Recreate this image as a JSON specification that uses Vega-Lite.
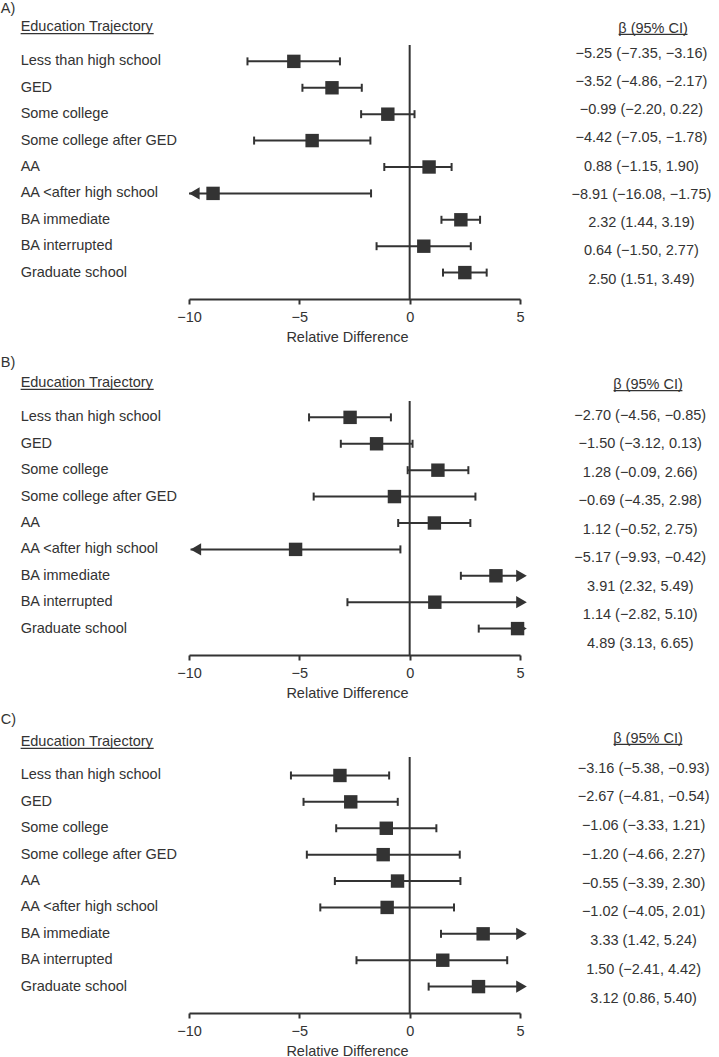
{
  "$schema": "https://vega.github.io/schema/vega-lite/v6.json",
  "padding": 0,
  "autosize": {"type": "pad"},
  "bounds": "flush",
  "spacing": 102,
  "background": "white",
  "datasets": {
    "d": [
      {"panel": "A", "ord": 1, "traj": "Less than high school", "est": -5.25, "lo": -7.35, "hi": -3.16, "trunc": "", "ci": "−5.25 (−7.35, −3.16)"},
      {"panel": "A", "ord": 2, "traj": "GED", "est": -3.52, "lo": -4.86, "hi": -2.17, "trunc": "", "ci": "−3.52 (−4.86, −2.17)"},
      {"panel": "A", "ord": 3, "traj": "Some college", "est": -0.99, "lo": -2.20, "hi": 0.22, "trunc": "", "ci": "−0.99 (−2.20, 0.22)"},
      {"panel": "A", "ord": 4, "traj": "Some college after GED", "est": -4.42, "lo": -7.05, "hi": -1.78, "trunc": "", "ci": "−4.42 (−7.05, −1.78)"},
      {"panel": "A", "ord": 5, "traj": "AA", "est": 0.88, "lo": -1.15, "hi": 1.90, "trunc": "", "ci": "0.88 (−1.15, 1.90)"},
      {"panel": "A", "ord": 6, "traj": "AA <after high school", "est": -8.91, "lo": -16.08, "hi": -1.75, "trunc": "left", "ci": "−8.91 (−16.08, −1.75)"},
      {"panel": "A", "ord": 7, "traj": "BA immediate", "est": 2.32, "lo": 1.44, "hi": 3.19, "trunc": "", "ci": "2.32 (1.44, 3.19)"},
      {"panel": "A", "ord": 8, "traj": "BA interrupted", "est": 0.64, "lo": -1.50, "hi": 2.77, "trunc": "", "ci": "0.64 (−1.50, 2.77)"},
      {"panel": "A", "ord": 9, "traj": "Graduate school", "est": 2.50, "lo": 1.51, "hi": 3.49, "trunc": "", "ci": "2.50 (1.51, 3.49)"},
      {"panel": "B", "ord": 1, "traj": "Less than high school", "est": -2.70, "lo": -4.56, "hi": -0.85, "trunc": "", "ci": "−2.70 (−4.56, −0.85)"},
      {"panel": "B", "ord": 2, "traj": "GED", "est": -1.50, "lo": -3.12, "hi": 0.13, "trunc": "", "ci": "−1.50 (−3.12, 0.13)"},
      {"panel": "B", "ord": 3, "traj": "Some college", "est": 1.28, "lo": -0.09, "hi": 2.66, "trunc": "", "ci": "1.28 (−0.09, 2.66)"},
      {"panel": "B", "ord": 4, "traj": "Some college after GED", "est": -0.69, "lo": -4.35, "hi": 2.98, "trunc": "", "ci": "−0.69 (−4.35, 2.98)"},
      {"panel": "B", "ord": 5, "traj": "AA", "est": 1.12, "lo": -0.52, "hi": 2.75, "trunc": "", "ci": "1.12 (−0.52, 2.75)"},
      {"panel": "B", "ord": 6, "traj": "AA <after high school", "est": -5.17, "lo": -9.93, "hi": -0.42, "trunc": "left", "ci": "−5.17 (−9.93, −0.42)"},
      {"panel": "B", "ord": 7, "traj": "BA immediate", "est": 3.91, "lo": 2.32, "hi": 5.49, "trunc": "right", "ci": "3.91 (2.32, 5.49)"},
      {"panel": "B", "ord": 8, "traj": "BA interrupted", "est": 1.14, "lo": -2.82, "hi": 5.10, "trunc": "right", "ci": "1.14 (−2.82, 5.10)"},
      {"panel": "B", "ord": 9, "traj": "Graduate school", "est": 4.89, "lo": 3.13, "hi": 6.65, "trunc": "right", "ci": "4.89 (3.13, 6.65)"},
      {"panel": "C", "ord": 1, "traj": "Less than high school", "est": -3.16, "lo": -5.38, "hi": -0.93, "trunc": "", "ci": "−3.16 (−5.38, −0.93)"},
      {"panel": "C", "ord": 2, "traj": "GED", "est": -2.67, "lo": -4.81, "hi": -0.54, "trunc": "", "ci": "−2.67 (−4.81, −0.54)"},
      {"panel": "C", "ord": 3, "traj": "Some college", "est": -1.06, "lo": -3.33, "hi": 1.21, "trunc": "", "ci": "−1.06 (−3.33, 1.21)"},
      {"panel": "C", "ord": 4, "traj": "Some college after GED", "est": -1.20, "lo": -4.66, "hi": 2.27, "trunc": "", "ci": "−1.20 (−4.66, 2.27)"},
      {"panel": "C", "ord": 5, "traj": "AA", "est": -0.55, "lo": -3.39, "hi": 2.30, "trunc": "", "ci": "−0.55 (−3.39, 2.30)"},
      {"panel": "C", "ord": 6, "traj": "AA <after high school", "est": -1.02, "lo": -4.05, "hi": 2.01, "trunc": "", "ci": "−1.02 (−4.05, 2.01)"},
      {"panel": "C", "ord": 7, "traj": "BA immediate", "est": 3.33, "lo": 1.42, "hi": 5.24, "trunc": "right", "ci": "3.33 (1.42, 5.24)"},
      {"panel": "C", "ord": 8, "traj": "BA interrupted", "est": 1.50, "lo": -2.41, "hi": 4.42, "trunc": "", "ci": "1.50 (−2.41, 4.42)"},
      {"panel": "C", "ord": 9, "traj": "Graduate school", "est": 3.12, "lo": 0.86, "hi": 5.40, "trunc": "right", "ci": "3.12 (0.86, 5.40)"}
    ]
  },
  "vconcat": [
    {
      "width": 331, "height": 254,
      "data": {"name": "d"},
      "transform": [{"filter": "datum.panel === 'A'"}],
      "resolve": {"scale": {"x": "independent", "y": "independent"}},
      "layer": [
        {
          "layer": [
            {"data": {"values": [{}]}, "mark": {"type": "rule", "strokeWidth": 2, "color": "#333333"},
             "encoding": {"x": {"datum": 0, "type": "quantitative", "scale": {"domain": [-10, 5], "nice": false, "zero": false}, "axis": {"values": [-10, -5, 0, 5], "title": "Relative Difference"}}}},
            {"mark": {"type": "text", "align": "left"},
             "encoding": {"x": {"datum": -17.63, "scale": {"domain": [-10, 5], "nice": false, "zero": false}},
                          "y": {"field": "ord", "type": "quantitative", "scale": {"domain": [0.38, 10], "reverse": true, "nice": false, "zero": false}, "axis": null},
                          "text": {"field": "traj"}}},
            {"data": {"values": [{}]}, "mark": {"type": "text", "align": "left"},
             "encoding": {"x": {"datum": -18.53, "scale": {"domain": [-10, 5], "nice": false, "zero": false}},
                          "y": {"datum": -0.984, "scale": {"domain": [0.38, 10], "reverse": true, "nice": false, "zero": false}, "axis": null},
                          "text": {"value": "A)"}}},
            {"data": {"values": [{}]}, "mark": {"type": "text", "align": "left"},
             "encoding": {"x": {"datum": -17.63, "scale": {"domain": [-10, 5], "nice": false, "zero": false}},
                          "y": {"datum": -0.302, "scale": {"domain": [0.38, 10], "reverse": true, "nice": false, "zero": false}, "axis": null},
                          "text": {"value": "Education Trajectory"}}},
            {"data": {"values": [{}]}, "mark": {"type": "rule", "strokeWidth": 1.2, "color": "#333333"},
             "encoding": {"x": {"datum": -17.63, "scale": {"domain": [-10, 5], "nice": false, "zero": false}}, "x2": {"datum": -11.6},
                          "y": {"datum": -0.048, "scale": {"domain": [0.38, 10], "reverse": true, "nice": false, "zero": false}, "axis": null}}},
            {"data": {"values": [{}]}, "mark": {"type": "text", "align": "center"},
             "encoding": {"x": {"datum": 11.03, "scale": {"domain": [-10, 5], "nice": false, "zero": false}},
                          "y": {"datum": -0.226, "scale": {"domain": [0.38, 10], "reverse": true, "nice": false, "zero": false}, "axis": null},
                          "text": {"value": "β (95% CI)"}}},
            {"data": {"values": [{}]}, "mark": {"type": "rule", "strokeWidth": 1.2, "color": "#333333"},
             "encoding": {"x": {"datum": 9.47, "scale": {"domain": [-10, 5], "nice": false, "zero": false}}, "x2": {"datum": 12.59},
                          "y": {"datum": -0.025, "scale": {"domain": [0.38, 10], "reverse": true, "nice": false, "zero": false}, "axis": null}}}
          ]
        },
        {
          "layer": [
            {"mark": {"type": "rule", "strokeWidth": 2, "color": "#333333"},
             "encoding": {"x": {"field": "lo", "type": "quantitative", "scale": {"domain": [-10, 5], "clamp": true, "nice": false, "zero": false}, "axis": null},
                          "x2": {"field": "hi"},
                          "y": {"field": "ord", "type": "quantitative", "scale": {"domain": [0.38, 10], "reverse": true, "nice": false, "zero": false}, "axis": null}}},
            {"transform": [{"filter": "datum.trunc !== 'left'"}],
             "mark": {"type": "tick", "orient": "vertical", "size": 8, "thickness": 2, "color": "#333333", "opacity": 1},
             "encoding": {"x": {"field": "lo", "type": "quantitative", "scale": {"domain": [-10, 5], "clamp": true, "nice": false, "zero": false}, "axis": null},
                          "y": {"field": "ord", "type": "quantitative", "scale": {"domain": [0.38, 10], "reverse": true, "nice": false, "zero": false}, "axis": null}}},
            {"transform": [{"filter": "datum.trunc !== 'right'"}],
             "mark": {"type": "tick", "orient": "vertical", "size": 8, "thickness": 2, "color": "#333333", "opacity": 1},
             "encoding": {"x": {"field": "hi", "type": "quantitative", "scale": {"domain": [-10, 5], "clamp": true, "nice": false, "zero": false}, "axis": null},
                          "y": {"field": "ord", "type": "quantitative", "scale": {"domain": [0.38, 10], "reverse": true, "nice": false, "zero": false}, "axis": null}}},
            {"transform": [{"filter": "datum.trunc === 'left'"}],
             "mark": {"type": "point", "shape": "triangle-left", "size": 150, "filled": true, "color": "#333333", "opacity": 1, "xOffset": 5.3},
             "encoding": {"x": {"field": "lo", "type": "quantitative", "scale": {"domain": [-10, 5], "clamp": true, "nice": false, "zero": false}, "axis": null},
                          "y": {"field": "ord", "type": "quantitative", "scale": {"domain": [0.38, 10], "reverse": true, "nice": false, "zero": false}, "axis": null}}},
            {"transform": [{"filter": "datum.trunc === 'right'"}],
             "mark": {"type": "point", "shape": "triangle-right", "size": 150, "filled": true, "color": "#333333", "opacity": 1, "xOffset": 1.5},
             "encoding": {"x": {"field": "hi", "type": "quantitative", "scale": {"domain": [-10, 5], "clamp": true, "nice": false, "zero": false}, "axis": null},
                          "y": {"field": "ord", "type": "quantitative", "scale": {"domain": [0.38, 10], "reverse": true, "nice": false, "zero": false}, "axis": null}}},
            {"mark": {"type": "square", "size": 180, "color": "#333333", "opacity": 1},
             "encoding": {"x": {"field": "est", "type": "quantitative", "scale": {"domain": [-10, 5], "clamp": true, "nice": false, "zero": false}, "axis": null},
                          "y": {"field": "ord", "type": "quantitative", "scale": {"domain": [0.38, 10], "reverse": true, "nice": false, "zero": false}, "axis": null}}}
          ]
        },
        {
          "mark": {"type": "text", "align": "center"},
          "encoding": {"x": {"datum": 10.5, "scale": {"domain": [-10, 5], "nice": false, "zero": false}, "axis": null},
                       "y": {"field": "ord", "type": "quantitative", "scale": {"domain": [0.696, 9.686], "reverse": true, "nice": false, "zero": false}, "axis": null},
                       "text": {"field": "ci"}}
        }
      ]
    },
    {
      "width": 331, "height": 254,
      "data": {"name": "d"},
      "transform": [{"filter": "datum.panel === 'B'"}],
      "resolve": {"scale": {"x": "independent", "y": "independent"}},
      "layer": [
        {
          "layer": [
            {"data": {"values": [{}]}, "mark": {"type": "rule", "strokeWidth": 2, "color": "#333333"},
             "encoding": {"x": {"datum": 0, "type": "quantitative", "scale": {"domain": [-10, 5], "nice": false, "zero": false}, "axis": {"values": [-10, -5, 0, 5], "title": "Relative Difference"}}}},
            {"mark": {"type": "text", "align": "left"},
             "encoding": {"x": {"datum": -17.63, "scale": {"domain": [-10, 5], "nice": false, "zero": false}},
                          "y": {"field": "ord", "type": "quantitative", "scale": {"domain": [0.38, 10], "reverse": true, "nice": false, "zero": false}, "axis": null},
                          "text": {"field": "traj"}}},
            {"data": {"values": [{}]}, "mark": {"type": "text", "align": "left"},
             "encoding": {"x": {"datum": -18.53, "scale": {"domain": [-10, 5], "nice": false, "zero": false}},
                          "y": {"datum": -1.07, "scale": {"domain": [0.38, 10], "reverse": true, "nice": false, "zero": false}, "axis": null},
                          "text": {"value": "B)"}}},
            {"data": {"values": [{}]}, "mark": {"type": "text", "align": "left"},
             "encoding": {"x": {"datum": -17.63, "scale": {"domain": [-10, 5], "nice": false, "zero": false}},
                          "y": {"datum": -0.317, "scale": {"domain": [0.38, 10], "reverse": true, "nice": false, "zero": false}, "axis": null},
                          "text": {"value": "Education Trajectory"}}},
            {"data": {"values": [{}]}, "mark": {"type": "rule", "strokeWidth": 1.2, "color": "#333333"},
             "encoding": {"x": {"datum": -17.63, "scale": {"domain": [-10, 5], "nice": false, "zero": false}}, "x2": {"datum": -11.6},
                          "y": {"datum": -0.063, "scale": {"domain": [0.38, 10], "reverse": true, "nice": false, "zero": false}, "axis": null}}},
            {"data": {"values": [{}]}, "mark": {"type": "text", "align": "center"},
             "encoding": {"x": {"datum": 10.8, "scale": {"domain": [-10, 5], "nice": false, "zero": false}},
                          "y": {"datum": -0.241, "scale": {"domain": [0.38, 10], "reverse": true, "nice": false, "zero": false}, "axis": null},
                          "text": {"value": "β (95% CI)"}}},
            {"data": {"values": [{}]}, "mark": {"type": "rule", "strokeWidth": 1.2, "color": "#333333"},
             "encoding": {"x": {"datum": 9.24, "scale": {"domain": [-10, 5], "nice": false, "zero": false}}, "x2": {"datum": 12.36},
                          "y": {"datum": -0.014, "scale": {"domain": [0.38, 10], "reverse": true, "nice": false, "zero": false}, "axis": null}}}
          ]
        },
        {
          "layer": [
            {"mark": {"type": "rule", "strokeWidth": 2, "color": "#333333"},
             "encoding": {"x": {"field": "lo", "type": "quantitative", "scale": {"domain": [-10, 5], "clamp": true, "nice": false, "zero": false}, "axis": null},
                          "x2": {"field": "hi"},
                          "y": {"field": "ord", "type": "quantitative", "scale": {"domain": [0.38, 10], "reverse": true, "nice": false, "zero": false}, "axis": null}}},
            {"transform": [{"filter": "datum.trunc !== 'left'"}],
             "mark": {"type": "tick", "orient": "vertical", "size": 8, "thickness": 2, "color": "#333333", "opacity": 1},
             "encoding": {"x": {"field": "lo", "type": "quantitative", "scale": {"domain": [-10, 5], "clamp": true, "nice": false, "zero": false}, "axis": null},
                          "y": {"field": "ord", "type": "quantitative", "scale": {"domain": [0.38, 10], "reverse": true, "nice": false, "zero": false}, "axis": null}}},
            {"transform": [{"filter": "datum.trunc !== 'right'"}],
             "mark": {"type": "tick", "orient": "vertical", "size": 8, "thickness": 2, "color": "#333333", "opacity": 1},
             "encoding": {"x": {"field": "hi", "type": "quantitative", "scale": {"domain": [-10, 5], "clamp": true, "nice": false, "zero": false}, "axis": null},
                          "y": {"field": "ord", "type": "quantitative", "scale": {"domain": [0.38, 10], "reverse": true, "nice": false, "zero": false}, "axis": null}}},
            {"transform": [{"filter": "datum.trunc === 'left'"}],
             "mark": {"type": "point", "shape": "triangle-left", "size": 150, "filled": true, "color": "#333333", "opacity": 1, "xOffset": 5.3},
             "encoding": {"x": {"field": "lo", "type": "quantitative", "scale": {"domain": [-10, 5], "clamp": true, "nice": false, "zero": false}, "axis": null},
                          "y": {"field": "ord", "type": "quantitative", "scale": {"domain": [0.38, 10], "reverse": true, "nice": false, "zero": false}, "axis": null}}},
            {"transform": [{"filter": "datum.trunc === 'right'"}],
             "mark": {"type": "point", "shape": "triangle-right", "size": 150, "filled": true, "color": "#333333", "opacity": 1, "xOffset": 1.5},
             "encoding": {"x": {"field": "hi", "type": "quantitative", "scale": {"domain": [-10, 5], "clamp": true, "nice": false, "zero": false}, "axis": null},
                          "y": {"field": "ord", "type": "quantitative", "scale": {"domain": [0.38, 10], "reverse": true, "nice": false, "zero": false}, "axis": null}}},
            {"mark": {"type": "square", "size": 180, "color": "#333333", "opacity": 1},
             "encoding": {"x": {"field": "est", "type": "quantitative", "scale": {"domain": [-10, 5], "clamp": true, "nice": false, "zero": false}, "axis": null},
                          "y": {"field": "ord", "type": "quantitative", "scale": {"domain": [0.38, 10], "reverse": true, "nice": false, "zero": false}, "axis": null}}}
          ]
        },
        {
          "mark": {"type": "text", "align": "center"},
          "encoding": {"x": {"datum": 10.45, "scale": {"domain": [-10, 5], "nice": false, "zero": false}, "axis": null},
                       "y": {"field": "ord", "type": "quantitative", "scale": {"domain": [0.488, 9.4], "reverse": true, "nice": false, "zero": false}, "axis": null},
                       "text": {"field": "ci"}}
        }
      ]
    },
    {
      "width": 331, "height": 256,
      "data": {"name": "d"},
      "transform": [{"filter": "datum.panel === 'C'"}],
      "resolve": {"scale": {"x": "independent", "y": "independent"}},
      "layer": [
        {
          "layer": [
            {"data": {"values": [{}]}, "mark": {"type": "rule", "strokeWidth": 2, "color": "#333333"},
             "encoding": {"x": {"datum": 0, "type": "quantitative", "scale": {"domain": [-10, 5], "nice": false, "zero": false}, "axis": {"values": [-10, -5, 0, 5], "title": "Relative Difference"}}}},
            {"mark": {"type": "text", "align": "left"},
             "encoding": {"x": {"datum": -17.63, "scale": {"domain": [-10, 5], "nice": false, "zero": false}},
                          "y": {"field": "ord", "type": "quantitative", "scale": {"domain": [0.3, 10], "reverse": true, "nice": false, "zero": false}, "axis": null},
                          "text": {"field": "traj"}}},
            {"data": {"values": [{}]}, "mark": {"type": "text", "align": "left"},
             "encoding": {"x": {"datum": -18.53, "scale": {"domain": [-10, 5], "nice": false, "zero": false}},
                          "y": {"datum": -1.117, "scale": {"domain": [0.3, 10], "reverse": true, "nice": false, "zero": false}, "axis": null},
                          "text": {"value": "C)"}}},
            {"data": {"values": [{}]}, "mark": {"type": "text", "align": "left"},
             "encoding": {"x": {"datum": -17.63, "scale": {"domain": [-10, 5], "nice": false, "zero": false}},
                          "y": {"datum": -0.283, "scale": {"domain": [0.3, 10], "reverse": true, "nice": false, "zero": false}, "axis": null},
                          "text": {"value": "Education Trajectory"}}},
            {"data": {"values": [{}]}, "mark": {"type": "rule", "strokeWidth": 1.2, "color": "#333333"},
             "encoding": {"x": {"datum": -17.63, "scale": {"domain": [-10, 5], "nice": false, "zero": false}}, "x2": {"datum": -11.6},
                          "y": {"datum": -0.03, "scale": {"domain": [0.3, 10], "reverse": true, "nice": false, "zero": false}, "axis": null}}},
            {"data": {"values": [{}]}, "mark": {"type": "text", "align": "center"},
             "encoding": {"x": {"datum": 10.8, "scale": {"domain": [-10, 5], "nice": false, "zero": false}},
                          "y": {"datum": -0.397, "scale": {"domain": [0.3, 10], "reverse": true, "nice": false, "zero": false}, "axis": null},
                          "text": {"value": "β (95% CI)"}}},
            {"data": {"values": [{}]}, "mark": {"type": "rule", "strokeWidth": 1.2, "color": "#333333"},
             "encoding": {"x": {"datum": 9.24, "scale": {"domain": [-10, 5], "nice": false, "zero": false}}, "x2": {"datum": 12.36},
                          "y": {"datum": -0.18, "scale": {"domain": [0.3, 10], "reverse": true, "nice": false, "zero": false}, "axis": null}}}
          ]
        },
        {
          "layer": [
            {"mark": {"type": "rule", "strokeWidth": 2, "color": "#333333"},
             "encoding": {"x": {"field": "lo", "type": "quantitative", "scale": {"domain": [-10, 5], "clamp": true, "nice": false, "zero": false}, "axis": null},
                          "x2": {"field": "hi"},
                          "y": {"field": "ord", "type": "quantitative", "scale": {"domain": [0.3, 10], "reverse": true, "nice": false, "zero": false}, "axis": null}}},
            {"transform": [{"filter": "datum.trunc !== 'left'"}],
             "mark": {"type": "tick", "orient": "vertical", "size": 8, "thickness": 2, "color": "#333333", "opacity": 1},
             "encoding": {"x": {"field": "lo", "type": "quantitative", "scale": {"domain": [-10, 5], "clamp": true, "nice": false, "zero": false}, "axis": null},
                          "y": {"field": "ord", "type": "quantitative", "scale": {"domain": [0.3, 10], "reverse": true, "nice": false, "zero": false}, "axis": null}}},
            {"transform": [{"filter": "datum.trunc !== 'right'"}],
             "mark": {"type": "tick", "orient": "vertical", "size": 8, "thickness": 2, "color": "#333333", "opacity": 1},
             "encoding": {"x": {"field": "hi", "type": "quantitative", "scale": {"domain": [-10, 5], "clamp": true, "nice": false, "zero": false}, "axis": null},
                          "y": {"field": "ord", "type": "quantitative", "scale": {"domain": [0.3, 10], "reverse": true, "nice": false, "zero": false}, "axis": null}}},
            {"transform": [{"filter": "datum.trunc === 'right'"}],
             "mark": {"type": "point", "shape": "triangle-right", "size": 150, "filled": true, "color": "#333333", "opacity": 1, "xOffset": 1.5},
             "encoding": {"x": {"field": "hi", "type": "quantitative", "scale": {"domain": [-10, 5], "clamp": true, "nice": false, "zero": false}, "axis": null},
                          "y": {"field": "ord", "type": "quantitative", "scale": {"domain": [0.3, 10], "reverse": true, "nice": false, "zero": false}, "axis": null}}},
            {"mark": {"type": "square", "size": 180, "color": "#333333", "opacity": 1},
             "encoding": {"x": {"field": "est", "type": "quantitative", "scale": {"domain": [-10, 5], "clamp": true, "nice": false, "zero": false}, "axis": null},
                          "y": {"field": "ord", "type": "quantitative", "scale": {"domain": [0.3, 10], "reverse": true, "nice": false, "zero": false}, "axis": null}}}
          ]
        },
        {
          "mark": {"type": "text", "align": "center"},
          "encoding": {"x": {"datum": 10.6, "scale": {"domain": [-10, 5], "nice": false, "zero": false}, "axis": null},
                       "y": {"field": "ord", "type": "quantitative", "scale": {"domain": [0.597, 9.501], "reverse": true, "nice": false, "zero": false}, "axis": null},
                       "text": {"field": "ci"}}
        }
      ]
    }
  ],
  "config": {
    "font": "Liberation Sans",
    "view": {"stroke": null},
    "text": {"fontSize": 14.5, "color": "#333333", "baseline": "middle"},
    "axis": {"grid": false, "domainColor": "#333333", "domainWidth": 2, "tickColor": "#333333", "tickWidth": 2, "tickSize": 5, "labelFontSize": 14.5, "labelColor": "#333333", "labelPadding": 6, "titleFontSize": 14.5, "titleFontWeight": "normal", "titleColor": "#333333", "titlePadding": 7, "titleX": 158, "labelFlush": false}
  }
}
